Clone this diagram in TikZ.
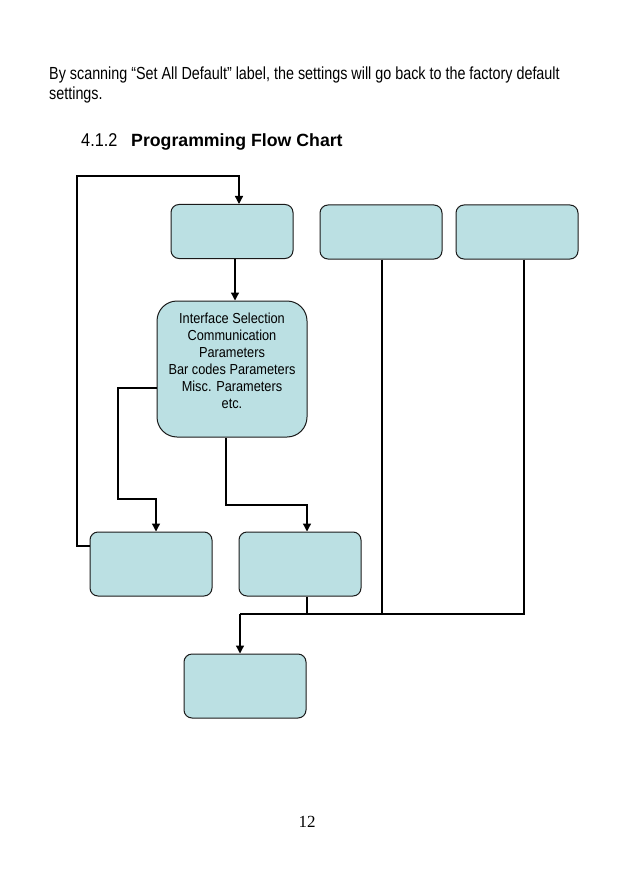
\documentclass[tikz,border=0pt]{standalone}
\usepackage{fontspec}
\setmainfont{Liberation Sans}
\newfontfamily\narrowfont[FakeStretch=0.82]{Liberation Sans}
\newfontfamily\boxfont[FakeStretch=0.88]{Liberation Sans}
\newfontfamily\pagefont{Liberation Serif}
\usetikzlibrary{calc,positioning,arrows.meta}
\definecolor{chartfill}{HTML}{BBE0E3}
\definecolor{chartline}{HTML}{1A1A1A}

\tikzset{
  flowbox/.style={draw=chartline, fill=chartfill, rounded corners=8pt,
    line width=1pt, minimum width=122pt, minimum height=54pt, inner sep=0pt},
  flowline/.style={line width=1.3pt, draw=black},
  flowarrow/.style={flowline, -{Triangle[length=8pt,width=8pt]}},
}

\begin{document}
\begin{tikzpicture}[x=1pt, y=-1pt]
  \useasboundingbox (0,0) rectangle (629,893);

  % intro text and heading
  \node[anchor=base west, inner sep=0pt, align=left,
    font=\narrowfont\fontsize{17.5}{20}\selectfont] (intro) at (49,100)
    {By scanning “Set All Default” label, the settings will go back to the factory default\\settings.};
  \node[anchor=base west, inner sep=0pt, font=\boxfont\fontsize{18.5}{20}\selectfont] (secnum) at (81,147) {4.1.2};
  \node[anchor=base west, inner sep=0pt, font=\bfseries\fontsize{17.7}{20}\selectfont] (sectitle) at (131,147) {Programming Flow Chart};

  % boxes
  \node[flowbox] (enterprog) at (232,231.5) {};
  \node[flowbox] (setdefault) at (381,232) {};
  \node[flowbox] (exitnosave) at (517,232) {};
  \node[flowbox, rounded corners=20pt, minimum width=150pt, minimum height=136pt,
    align=center, font=\boxfont\fontsize{14.5}{17}\selectfont] (params) at (232,369)
    {Interface Selection\\Communication\\Parameters\\Bar codes Parameters\\Misc. Parameters\\etc.\\ \mbox{}};
  \node[flowbox, minimum height=64pt] (savebox) at (151,564) {};
  \node[flowbox, minimum height=64pt] (abortbox) at (300,564) {};
  \node[flowbox, minimum height=64pt] (donebox) at (245,686) {};

  % connectors
  \coordinate (loopcorner) at (77,176);
  \coordinate (leftbend) at (118,499);
  \coordinate (midbend) at (226,505);
  \coordinate (merge) at (240,614);

  \draw[flowarrow] ([yshift=18pt]savebox.west) -| (loopcorner) -| ([xshift=7pt]enterprog.north);
  \draw[flowarrow] ([xshift=3pt]enterprog.south) -- ([xshift=3pt]enterprog.south |- params.north);
  \draw[flowarrow] ([yshift=-19pt]params.west) -| (leftbend) -| ([xshift=5pt]savebox.north);
  \draw[flowarrow] ([xshift=-6pt]params.south) -- (midbend) -| ([xshift=7pt]abortbox.north);
  \draw[flowline] ([xshift=7pt]abortbox.south) -- ([xshift=7pt]abortbox.south |- merge);
  \draw[flowline] ([xshift=1pt]setdefault.south) -- ([xshift=1pt]setdefault.south |- merge);
  \draw[flowline] ([xshift=7pt]exitnosave.south) |- (merge);
  \draw[flowarrow] (merge) -- ([xshift=-5pt]donebox.north);

  % page number
  \node[anchor=base, inner sep=0pt, font=\pagefont\fontsize{17}{20}\selectfont] (pagenum) at (307,827) {12};
\end{tikzpicture}
\end{document}
